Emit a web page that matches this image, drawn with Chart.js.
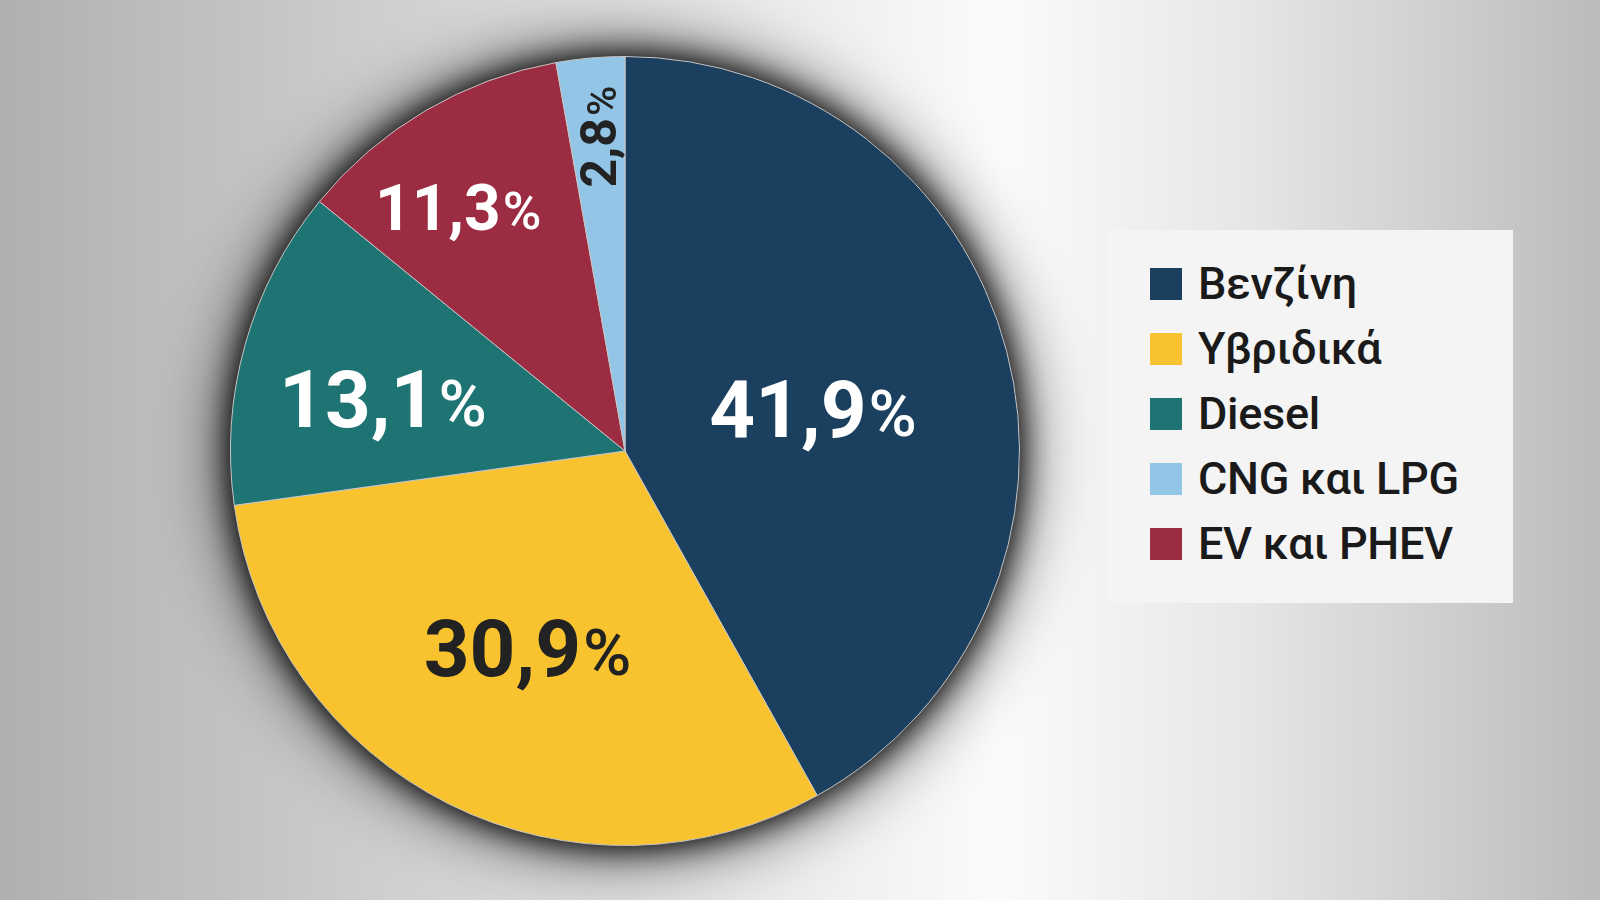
<!DOCTYPE html>
<html><head><meta charset="utf-8">
<script src="https://cdn.jsdelivr.net/npm/chart.js@4"></script>
<style>
html,body{margin:0;padding:0;width:1600px;height:900px;overflow:hidden;
background:linear-gradient(to right,#b0b0b0 0px,#d8d8d8 500px,#fbfbfb 1000px,#e6e6e6 1250px,#bbbbbb 1600px);font-family:Roboto,"Noto Sans",sans-serif;}
#wrap{position:absolute;left:0;top:0;width:1250px;height:900px;}
#legend{position:absolute;left:1108px;top:230px;width:405px;height:373px;background:#f4f4f4;box-sizing:border-box;padding-top:21px;}
.item{display:flex;align-items:center;height:65px;padding-left:42px;font-size:45px;font-weight:500;color:#1a1a1a;letter-spacing:-0.3px}
.sw{width:32px;height:32px;margin-right:16px;flex:none}
</style></head><body>
<div id="wrap"><canvas id="c"></canvas></div>
<div id="legend"></div>
<script>
const categories = ["Βενζίνη","Υβριδικά","Diesel","EV και PHEV","CNG και LPG"];
const values = [41.9, 30.9, 13.1, 11.3, 2.8];
const valueLabels = ["41,9%","30,9%","13,1%","11,3%","2,8%"];
const legendOrder = ["Βενζίνη","Υβριδικά","Diesel","CNG και LPG","EV και PHEV"];
const colors = ["#1b3f5e","#f8c32f","#1e7473","#9b2c42","#92c5e6"];

const leg=document.getElementById('legend');
legendOrder.forEach(n=>{const i=categories.indexOf(n);
 const d=document.createElement('div');d.className='item';
 d.innerHTML='<span class="sw" style="background:'+colors[i]+'"></span><span>'+n+'</span>';leg.appendChild(d);});

const labelCfg={r:[0.49,0.56,0.64,0.75,0.81],dx:[0,0,0,-18,7],dy:[15,7,24,18,5],
 color:["#fff","#222","#fff","#fff","#222"],size:[80,80,80,64,50],rot:[0,0,0,0,-Math.PI/2]};
const plug={id:'deco',
 beforeDatasetsDraw(ch){const a=ch.getDatasetMeta(0).data[0];const x=ch.ctx;
  for(const [b,al] of [[70,0.9],[30,1]]){
  x.save();x.beginPath();x.arc(a.x,a.y,a.outerRadius,0,Math.PI*2);x.fillStyle='#000';
  x.shadowColor='rgba(0,0,0,'+al+')';x.shadowBlur=b;x.fill();x.restore();}},
 afterDatasetsDraw(ch){const x=ch.ctx;ch.getDatasetMeta(0).data.forEach((a,i)=>{
  const m=(a.startAngle+a.endAngle)/2,r=a.outerRadius*labelCfg.r[i];
  const px=a.x+Math.cos(m)*r+labelCfg.dx[i],py=a.y+Math.sin(m)*r+labelCfg.dy[i];
  x.save();x.translate(px,py);x.rotate(labelCfg.rot[i]);
  x.fillStyle=labelCfg.color[i];x.textBaseline='middle';
  const s=labelCfg.size[i],t=valueLabels[i],num=t.slice(0,-1),ps=s*0.82;
  x.font='bold '+s+'px Roboto';const w1=x.measureText(num).width;
  x.font='500 '+ps+'px Roboto';const w2=x.measureText('%').width;
  const st=-(w1+w2)/2;x.textAlign='left';
  x.font='bold '+s+'px Roboto';x.fillText(num,st,0);
  x.font='500 '+ps+'px Roboto';x.fillText('%',st+w1+2,s*0.03);
  x.restore();});}
};
new Chart(document.getElementById('c'),{type:'pie',
 data:{labels:categories,datasets:[{data:values,backgroundColor:colors,borderColor:'#c8c8c8',borderWidth:1}]},
 options:{responsive:true,maintainAspectRatio:false,animation:false,
  layout:{padding:{top:56,bottom:54,left:0,right:0}},
  plugins:{legend:{display:false},tooltip:{enabled:false}}},
 plugins:[plug]});
</script></body></html>
